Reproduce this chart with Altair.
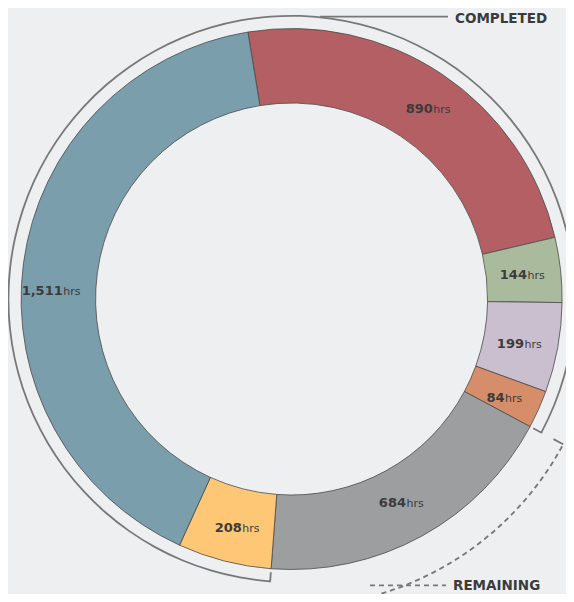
import math
import altair as alt
import pandas as pd

# ---------------- data ----------------
segments = ["Segment A", "Segment B", "Segment C", "Segment D", "Segment E", "Segment F", "Segment G"]
hours = [890, 144, 199, 84, 684, 208, 1511]
status = ["Completed", "Completed", "Completed", "Completed", "Remaining", "Completed", "Completed"]
colors = ["#b35f63", "#aabb9d", "#c9bfce", "#d68d69", "#9d9e9f", "#fec775", "#7b9eac"]
unit_label = "hrs"
status_labels = ["COMPLETED", "REMAINING"]

# ---------------- layout / style ----------------
START_DEG = -9.3
CX, CY = 283.6, 291.0
R_OUT, R_IN = 270.5, 196.0
R_BRACKET = 283.2
R_TICK_IN = 274.0
R_DASH = 308.0
R_DASH_TICK_IN = 297.0
label_nudge_deg = [2.7, 0.1, 0.3, 0.6, -0.65, -2.1, -5.5]
label_radius = [237.6, 236.7, 236.5, 234.4, 233.0, 233.3, 229.0]
TEXT = "#3b3b3b"
LINE = "#787878"
BG = "#eeeff1"
DASH, GAP = 5, 4

total = sum(hours)
starts = [sum(hours[:i]) for i in range(len(hours))]

df = pd.DataFrame({
    "segment": segments,
    "hours": hours,
    "status": status,
    "idx": list(range(len(hours))),
    "num": [f"{h:,}" for h in hours],
    "unit": [unit_label] * len(hours),
    "label_pos": [s + h / 2 + n / 360 * total for s, h, n in zip(starts, hours, label_nudge_deg)],
    "label_r": label_radius,
})

ri = status.index("Remaining")
rem_start = starts[ri]
rem_end = starts[ri] + hours[ri]

completed_df = pd.DataFrame({"t1": [rem_end], "t2": [rem_start + total]})
remaining_df = pd.DataFrame({"t1": [rem_start], "t2": [rem_end]})
ticks_df = pd.DataFrame({"t": [rem_start, rem_end]})

s_rad = math.radians(START_DEG)
theta_scale = alt.Scale(domain=[0, total], range=[s_rad, s_rad + 2 * math.pi])

# dash offset so the forward and backward passes of the degenerate arc coincide
arc_len = R_DASH * (rem_end - rem_start) / total * 2 * math.pi
period = DASH + GAP
dash_offset = (DASH / 2 - arc_len) % period

pos = dict(x=alt.value(CX), y=alt.value(CY))

donut = alt.Chart(df).mark_arc(
    radius=R_OUT, radius2=R_IN, stroke="#4a4a4a", strokeWidth=0.8
).encode(
    theta=alt.Theta("hours:Q", stack=True, scale=theta_scale),
    order=alt.Order("idx:Q"),
    color=alt.Color("segment:N", scale=alt.Scale(domain=segments, range=colors), legend=None),
    **pos,
)

num_text = alt.Chart(df).mark_text(
    align="right", baseline="alphabetic", dy=4.7,
    font="DejaVu Sans", fontWeight="bold", fontSize=13, color=TEXT
).encode(
    theta=alt.Theta("label_pos:Q", stack=False, scale=theta_scale),
    radius=alt.Radius("label_r:Q", scale=None),
    text="num:N",
    **pos,
)

unit_text = alt.Chart(df).mark_text(
    align="left", baseline="alphabetic", dy=4.7, dx=0.5,
    font="DejaVu Sans", fontWeight="normal", fontSize=11, color=TEXT
).encode(
    theta=alt.Theta("label_pos:Q", stack=False, scale=theta_scale),
    radius=alt.Radius("label_r:Q", scale=None),
    text="unit:N",
    **pos,
)

completed_arc = alt.Chart(completed_df).mark_arc(
    radius=R_BRACKET + 0.9, radius2=R_BRACKET - 0.9, color=LINE
).encode(
    theta=alt.Theta("t1:Q", scale=theta_scale),
    theta2="t2:Q",
    **pos,
)

completed_ticks = alt.Chart(ticks_df).mark_arc(
    radius=R_BRACKET + 0.9, radius2=R_TICK_IN, filled=False, stroke=LINE, strokeWidth=1.8
).encode(
    theta=alt.Theta("t:Q", scale=theta_scale),
    theta2="t:Q",
    **pos,
)

remaining_arc = alt.Chart(remaining_df).mark_arc(
    radius=R_DASH, radius2=R_DASH, filled=False, stroke=LINE, strokeWidth=1.8,
    strokeDash=[DASH, GAP], strokeDashOffset=dash_offset
).encode(
    theta=alt.Theta("t1:Q", scale=theta_scale),
    theta2="t2:Q",
    **pos,
)

remaining_ticks = alt.Chart(ticks_df).mark_arc(
    radius=R_DASH, radius2=R_DASH_TICK_IN, filled=False, stroke=LINE, strokeWidth=1.8
).encode(
    theta=alt.Theta("t:Q", scale=theta_scale),
    theta2="t:Q",
    **pos,
)

one = pd.DataFrame({"k": [0]})

completed_leader = alt.Chart(one).mark_rule(color=LINE, strokeWidth=1.8).encode(
    x=alt.value(312), x2=alt.value(440), y=alt.value(8.7)
)
remaining_leader = alt.Chart(one).mark_rule(color=LINE, strokeWidth=1.8, strokeDash=[DASH, GAP]).encode(
    x=alt.value(362), x2=alt.value(438), y=alt.value(577.3)
)

completed_label = alt.Chart(pd.DataFrame({"label": [status_labels[0]]})).mark_text(
    align="left", baseline="alphabetic", font="DejaVu Sans", fontWeight="bold",
    fontSize=13.5, color=TEXT
).encode(text="label:N", x=alt.value(447), y=alt.value(15))

remaining_label = alt.Chart(pd.DataFrame({"label": [status_labels[1]]})).mark_text(
    align="left", baseline="alphabetic", font="DejaVu Sans", fontWeight="bold",
    fontSize=13.5, color=TEXT
).encode(text="label:N", x=alt.value(445), y=alt.value(582))

chart = alt.layer(
    donut, completed_arc, completed_ticks, remaining_arc, remaining_ticks,
    completed_leader, remaining_leader, completed_label, remaining_label,
    num_text, unit_text,
).properties(
    width=558, height=586, padding=0,
    autosize=alt.AutoSizeParams(type="none"),
).configure(background=BG).configure_view(strokeWidth=0)

chart.save("out.html", embed_options={"renderer": "svg", "actions": False})
